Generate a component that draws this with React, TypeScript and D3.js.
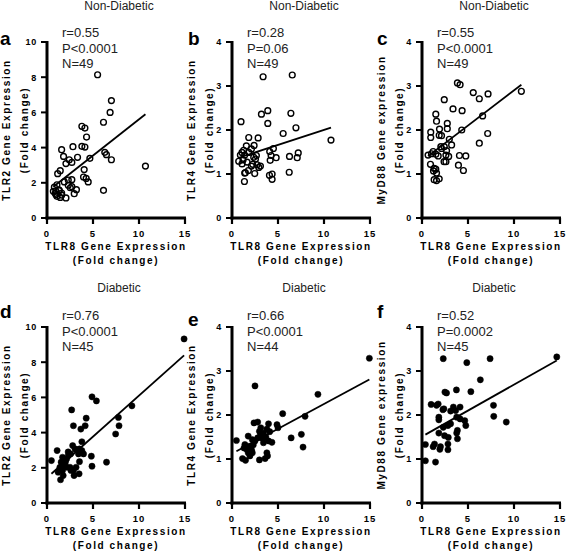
import React from 'react';
import * as d3 from 'd3';

const FONT = '"Liberation Sans", Arial, Helvetica, sans-serif';

const xTicks = [0, 5, 10, 15];
const yTicksTLR2 = [0, 2, 4, 6, 8, 10];
const yTicksSmall = [0, 1, 2, 3, 4];

const groupTitles = ['Non-Diabetic', 'Diabetic'];
const panelLetters = ['a', 'b', 'c', 'd', 'e', 'f'];
const yLabels = ['TLR2 Gene Expression', 'TLR4 Gene Expression', 'MyD88 Gene expression'];
const xLabel = 'TLR8 Gene Expression';
const foldLabel = '(Fold change)';

const statsA = ['r=0.55', 'P<0.0001', 'N=49'];
const statsB = ['r=0.28', 'P=0.06', 'N=49'];
const statsC = ['r=0.55', 'P<0.0001', 'N=49'];
const statsD = ['r=0.76', 'P<0.0001', 'N=45'];
const statsE = ['r=0.66', 'P<0.0001', 'N=44'];
const statsF = ['r=0.52', 'P=0.0002', 'N=45'];

// regression [slope, intercept]
const fitA = [0.412, 1.49];
const fitB = [0.068, 1.32];
const fitC = [0.16, 1.3];
const fitD = [0.466, 1.44];
const fitE = [0.113, 1.12];
const fitF = [0.118, 1.51];

const dataA = [
  [5.5, 8.14], [7.0, 6.67], [6.86, 6.0], [6.14, 5.44], [3.79, 5.21], [4.12, 5.11], [4.3, 4.6],
  [3.79, 4.07], [4.12, 4.03], [2.82, 4.05], [1.59, 3.88], [1.8, 3.5], [3.32, 3.45], [4.66, 3.39],
  [2.42, 3.31], [2.7, 3.16], [2.06, 3.09], [6.28, 3.73], [6.46, 3.6], [7.0, 3.31], [10.7, 2.95],
  [4.04, 2.75], [1.44, 2.69], [1.16, 2.52], [3.97, 2.33], [4.26, 2.25], [4.48, 2.05], [2.7, 2.18],
  [2.31, 2.16], [1.88, 2.05], [1.08, 1.89], [2.31, 1.86], [2.7, 1.78], [2.53, 1.72], [6.14, 1.57],
  [3.2, 1.61], [2.96, 1.38], [2.06, 1.14], [1.44, 1.17], [0.69, 1.52], [0.97, 1.52], [1.34, 1.55],
  [0.97, 1.33], [1.59, 1.42], [0.8, 1.75], [1.08, 1.23], [1.6, 1.3], [1.3, 1.6], [0.9, 1.4],
];
const dataB = [
  [3.38, 3.21], [6.55, 3.25], [3.89, 2.44], [3.2, 2.36], [6.4, 2.38], [0.98, 2.19], [3.89, 2.15],
  [6.95, 2.05], [5.56, 1.92], [10.76, 1.77], [1.82, 1.83], [2.84, 1.82], [1.56, 1.64], [2.4, 1.65],
  [1.27, 1.54], [2.11, 1.57], [0.91, 1.43], [1.38, 1.43], [2.65, 1.42], [4.5, 1.58], [4.1, 1.51],
  [4.25, 1.42], [4.8, 1.37], [4.15, 1.31], [7.2, 1.48], [7.09, 1.37], [6.25, 1.4], [0.73, 1.29],
  [1.2, 1.32], [1.09, 1.23], [2.55, 1.34], [2.25, 1.22], [2.73, 1.21], [2.91, 1.15], [3.09, 1.18],
  [2.11, 1.18], [1.78, 1.08], [1.45, 1.03], [1.38, 1.02], [2.47, 1.01], [6.22, 1.04], [4.07, 0.97],
  [4.36, 1.0], [4.36, 0.88], [1.35, 0.83], [1.09, 1.49], [1.82, 1.49], [2.36, 1.38], [1.64, 1.27],
];
const dataC = [
  [3.85, 3.07], [4.14, 3.03], [5.57, 2.85], [6.23, 2.71], [7.18, 2.82], [10.8, 2.88], [2.42, 2.69],
  [3.37, 2.48], [4.36, 2.44], [6.59, 2.32], [1.5, 2.36], [1.58, 2.2], [2.75, 2.15], [2.75, 2.03],
  [0.95, 1.95], [0.95, 1.83], [1.9, 2.02], [1.87, 1.88], [2.12, 1.87], [4.32, 2.0], [7.14, 1.92],
  [6.23, 1.7], [2.97, 1.79], [3.22, 1.66], [2.05, 1.62], [2.42, 1.62], [2.67, 1.53], [0.66, 1.43],
  [1.03, 1.46], [1.21, 1.51], [1.5, 1.45], [1.76, 1.41], [2.6, 1.43], [2.9, 1.4], [4.07, 1.42],
  [4.76, 1.41], [2.4, 1.28], [2.6, 1.28], [0.92, 1.22], [3.96, 1.2], [4.5, 1.08], [1.32, 1.13],
  [1.5, 1.11], [1.25, 1.07], [1.58, 1.02], [1.32, 0.87], [1.58, 0.85], [1.87, 0.89], [2.12, 1.58],
];
const dataD = [
  [14.9, 9.32], [4.89, 6.03], [5.37, 5.8], [9.23, 5.52], [2.68, 5.29], [7.76, 4.86], [4.26, 4.82],
  [7.83, 4.39], [2.87, 4.39], [4.15, 4.39], [3.68, 4.2], [7.46, 3.92], [3.79, 3.48], [2.79, 3.26],
  [3.05, 3.07], [3.53, 3.07], [3.79, 2.98], [3.97, 2.79], [3.42, 2.79], [2.57, 2.79], [2.32, 2.69],
  [2.13, 2.5], [1.1, 2.98], [1.69, 2.6], [4.82, 2.66], [3.53, 2.35], [4.89, 2.09], [6.47, 2.32],
  [0.48, 2.41], [1.54, 2.32], [2.0, 2.32], [2.15, 2.03], [1.4, 2.03], [1.69, 1.85], [2.5, 2.03],
  [2.6, 1.85], [3.16, 2.03], [2.87, 1.85], [1.76, 1.56], [2.94, 1.56], [3.49, 1.66], [1.47, 1.32],
  [1.21, 1.75], [1.87, 2.13], [2.3, 2.9],
];
const dataE = [
  [14.93, 3.29], [2.5, 2.66], [9.34, 2.47], [5.51, 2.03], [7.94, 1.97], [2.39, 1.82], [2.79, 1.84],
  [3.97, 1.8], [4.89, 1.78], [5.0, 1.71], [3.13, 1.71], [3.79, 1.68], [2.98, 1.63], [1.76, 1.52],
  [3.42, 1.59], [7.54, 1.56], [6.43, 1.48], [7.72, 1.27], [0.48, 1.42], [2.79, 1.48], [3.24, 1.48],
  [3.68, 1.5], [3.97, 1.41], [4.34, 1.38], [3.42, 1.37], [2.21, 1.44], [2.5, 1.41], [1.4, 1.33],
  [1.87, 1.29], [2.32, 1.32], [1.58, 1.22], [2.13, 1.2], [1.76, 1.14], [2.21, 1.14], [3.79, 1.14],
  [3.86, 1.07], [3.6, 1.01], [1.14, 1.01], [1.47, 0.97], [2.98, 0.98], [1.95, 1.07], [4.1, 1.62],
  [3.1, 1.55], [1.3, 1.25],
];
const dataF = [
  [14.65, 3.32], [2.31, 3.28], [7.4, 3.28], [4.87, 3.19], [6.34, 2.8], [2.67, 2.5], [3.74, 2.57],
  [5.31, 2.53], [2.49, 2.52], [0.99, 2.24], [1.76, 2.25], [1.58, 2.22], [7.77, 2.22], [4.14, 2.18],
  [3.41, 2.18], [2.38, 2.14], [2.27, 2.12], [3.66, 2.1], [3.11, 2.09], [1.83, 1.95], [7.8, 1.97],
  [1.83, 1.89], [3.77, 1.95], [4.14, 1.91], [4.65, 1.87], [4.76, 1.76], [9.16, 1.84], [3.11, 1.8],
  [2.82, 1.76], [2.31, 1.72], [3.85, 1.65], [3.77, 1.59], [1.83, 1.59], [2.45, 1.53], [2.86, 1.49],
  [3.85, 1.46], [2.82, 1.34], [1.36, 1.34], [0.37, 1.33], [1.21, 1.28], [2.01, 1.28], [1.94, 1.22],
  [2.82, 1.21], [0.37, 0.96], [1.47, 0.93],
];

const panelData = [dataA, dataB, dataC, dataD, dataE, dataF];
const panelStats = [statsA, statsB, statsC, statsD, statsE, statsF];
const panelFits = [fitA, fitB, fitC, fitD, fitE, fitF];

// layout
const colX0 = [47, 232, 422];
const plotW = 138;
const rowY0 = [218, 503];
const plotH = 176;

function Panel({ idx }: { idx: number }) {
  const row = Math.floor(idx / 3);
  const col = idx % 3;
  const x0 = colX0[col];
  const yb = rowY0[row];
  const yt = yb - plotH;
  const isTLR2 = col === 0;
  const yTicks = isTLR2 ? yTicksTLR2 : yTicksSmall;
  const x = d3.scaleLinear().domain([0, 15]).range([x0, x0 + plotW]);
  const y = d3.scaleLinear().domain([0, isTLR2 ? 10 : 4]).range([yb, yt]);
  const data = panelData[idx];
  const [slope, intercept] = panelFits[idx];
  const ext = d3.extent(data, (d) => d[0]) as [number, number];
  const line = d3.line<number>().x((v) => x(v)).y((v) => y(slope * v + intercept));
  const filled = row === 1;
  const cx = x0 + plotW / 2;
  const midY = (yb + yt) / 2;
  const lb = row === 0 ? 45 : idx === 4 ? 326 : 318;
  return (
    <g>
      <text x={cx + 3} y={row === 0 ? 10 : 292} fontFamily={FONT} fontSize={12} textAnchor="middle" fill="#222">
        {groupTitles[row]}
      </text>
      <text x={x0 - 47 + (col === 0 ? 0 : col === 1 ? 3 : 2)} y={lb} fontFamily={FONT} fontSize={19} fontWeight="bold">
        {panelLetters[idx]}
      </text>
      {/* y label */}
      <text transform={`translate(${x0 - 37},${midY}) rotate(-90)`} fontFamily={FONT} fontSize={10} fontWeight="bold" textAnchor="middle" letterSpacing={1.6}>
        {yLabels[col]}
      </text>
      <text transform={`translate(${x0 - 19},${midY}) rotate(-90)`} fontFamily={FONT} fontSize={10} fontWeight="bold" textAnchor="middle" letterSpacing={1.6}>
        {foldLabel}
      </text>
      {/* x label */}
      <text x={cx} y={yb + 32} fontFamily={FONT} fontSize={10} fontWeight="bold" textAnchor="middle" letterSpacing={1.6}>
        {xLabel}
      </text>
      <text x={cx} y={yb + 46} fontFamily={FONT} fontSize={10} fontWeight="bold" textAnchor="middle" letterSpacing={1.6}>
        {foldLabel}
      </text>
      {/* stats */}
      {panelStats[idx].map((s, i) => (
        <text key={i} x={x0 + 15} y={(row === 0 ? 37 : 320) + i * 15.5} fontFamily={FONT} fontSize={13} fill="#222">
          {s}
        </text>
      ))}
      {/* y ticks */}
      {yTicks.map((t) => (
        <g key={'y' + t}>
          <line x1={x0 - 6} x2={x0} y1={y(t)} y2={y(t)} stroke="#000" strokeWidth={2} />
          <text x={x0 - 10} y={y(t) + 3.3} fontFamily={FONT} fontSize={9} fontWeight="bold" textAnchor="end" letterSpacing={0.8}>
            {t}
          </text>
        </g>
      ))}
      {/* x ticks */}
      {xTicks.map((t) => (
        <g key={'x' + t}>
          <line x1={x(t)} x2={x(t)} y1={yb} y2={yb + 6} stroke="#000" strokeWidth={2.2} />
          <text x={x(t)} y={yb + 19} fontFamily={FONT} fontSize={9.5} fontWeight="bold" textAnchor="middle" letterSpacing={1}>
            {t}
          </text>
        </g>
      ))}
      {/* axes */}
      <line x1={x0} x2={x0} y1={yt - 1} y2={yb + 1.5} stroke="#000" strokeWidth={3} />
      <line x1={x0 - 1.5} x2={x0 + plotW + 1} y1={yb} y2={yb} stroke="#000" strokeWidth={3} />
      {/* regression */}
      <path d={line([ext[0], ext[1]]) || ''} stroke="#000" strokeWidth={1.8} fill="none" />
      {/* points */}
      {data.map((d, i) => (
        <circle key={i} cx={x(d[0])} cy={y(d[1])} r={filled ? 3.1 : 2.9} fill={filled ? '#000' : '#fff'} fillOpacity={filled ? 1 : 0} stroke="#000" strokeWidth={filled ? 0.5 : 1.4} />
      ))}
    </g>
  );
}

export default function App() {
  return (
    <svg width={566} height={551} style={{ position: 'absolute', left: 0, top: 0, background: '#fff' }}>
      <rect width={566} height={551} fill="#fff" />
      {panelLetters.map((_, i) => (
        <Panel key={i} idx={i} />
      ))}
    </svg>
  );
}
